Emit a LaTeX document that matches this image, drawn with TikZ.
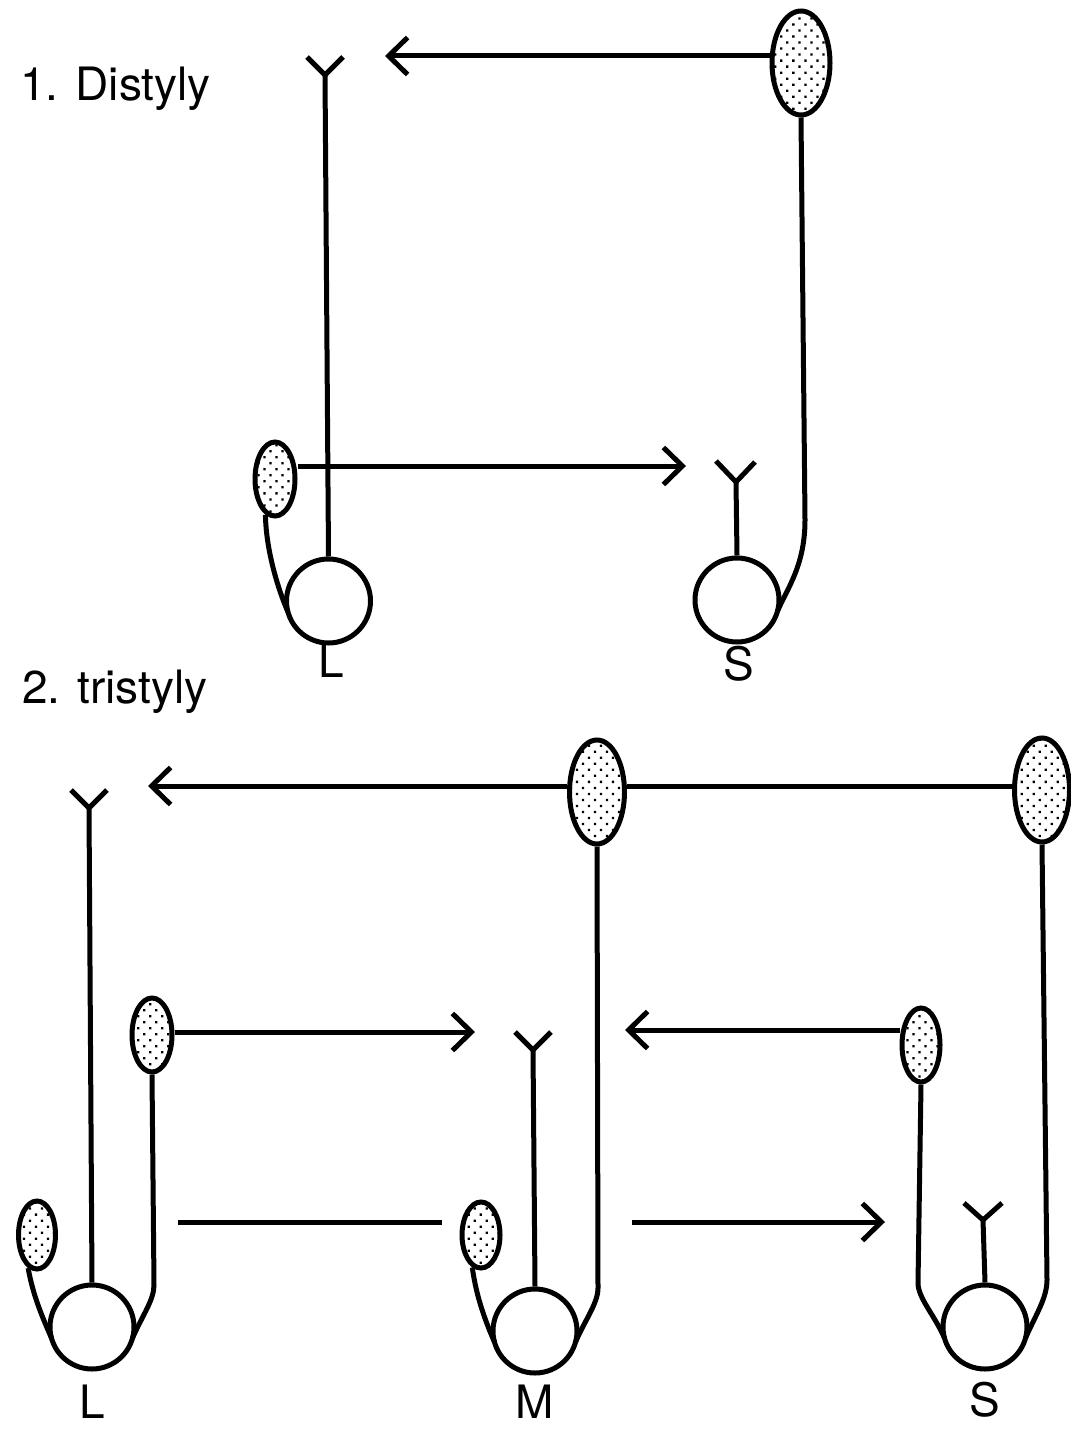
\documentclass[tikz,border=0pt]{standalone}
\usepackage{fontspec}
\setmainfont{TeX Gyre Heros}
\usetikzlibrary{shapes.geometric,patterns.meta,arrows.meta}
\tikzset{
  ln/.style={line width=5pt},
  anther/.style={ellipse, draw, line width=5pt, inner sep=0pt,
    pattern={Dots[distance=8.5pt, angle=45, radius=1.6pt]}},
  ovary/.style={circle, draw, line width=5pt, minimum size=84pt, inner sep=0pt},
  arr/.style={line width=5pt, -{Straight Barb[length=19pt, width=37pt, line width=5pt]}},
  lbl/.style={font=\fontsize{46}{50}\selectfont, inner sep=0pt},
}
\begin{document}
\begin{tikzpicture}[x=1pt, y=-1pt]
\useasboundingbox (0,0) rectangle (1070,1431);

% ---------------- Titles and labels ----------------
\node[lbl, anchor=base west] (t1) at (20,101) {1. Distyly};
\node[lbl, anchor=base west] (t2) at (22,703) {2. tristyly};
\node[lbl, anchor=base] (lD) at (331,677) {L};
\node[lbl, anchor=base] (sD) at (739,680) {S};
\node[lbl, anchor=base] (lT) at (92,1418) {L};
\node[lbl, anchor=base] (mT) at (535,1418) {M};
\node[lbl, anchor=base] (sT) at (985,1416) {S};

% ================= 1. Distyly =================
% L morph
\node[ovary] (DLo) at (328.5,601) {};
\coordinate (DLf) at (325,75);
\draw[ln] (DLo.north) -- (DLf);
\draw[ln] (307,57) -- (DLf) -- (343,57);
\node[anther, minimum width=40pt, minimum height=74pt] (DLa) at (275,479) {};
\draw[ln] (DLa.255) .. controls (266,550) and (277.9,588.9) .. (287.9,611.9);

% S morph
\node[ovary] (DSo) at (737,600) {};
\coordinate (DSf) at (736,482);
\draw[ln] (DSo.north) -- (DSf);
\draw[ln] (716,461) -- (DSf) -- (755,462);
\node[anther, minimum width=58pt, minimum height=104pt] (DSa) at (801,63) {};
\draw[ln] (DSa.south) -- (805,520) .. controls (805,565) and (787.6,587.9) .. (777.6,610.9);

% pollen flow arrows
\coordinate (DT1) at (385,56);
\coordinate (DT2) at (686,466);
\draw[arr] (DSa.west |- DT1) -- (DT1);
\draw[arr] (DLa.east |- DT2) -- (DT2);

% ================= 2. Tristyly =================
% L morph
\node[ovary] (TLo) at (92,1327) {};
\coordinate (TLf) at (89,808);
\draw[ln] (TLo.north) -- (TLf);
\draw[ln] (71,790) -- (TLf) -- (107,790);
\node[anther, minimum width=37pt, minimum height=68pt] (TLa1) at (37,1235) {};
\draw[ln] (TLa1.255) .. controls (33,1295) and (41.4,1314.9) .. (51.4,1337.9);
\node[anther, minimum width=40pt, minimum height=74pt] (TLa2) at (152,1035) {};
\draw[ln] (TLa2.south) -- (154,1285) .. controls (154,1300) and (142.6,1314.9) .. (132.6,1337.9);

% M morph
\node[ovary] (TMo) at (535,1331) {};
\coordinate (TMf) at (533,1050);
\draw[ln] (TMo.north) -- (TMf);
\draw[ln] (515,1032) -- (TMf) -- (551,1032);
\node[anther, minimum width=38pt, minimum height=66pt] (TMa1) at (481,1235) {};
\draw[ln] (TMa1.255) .. controls (476,1295) and (484.4,1318.9) .. (494.4,1341.9);
\node[anther, minimum width=55pt, minimum height=104pt] (TMa2) at (597,792) {};
\draw[ln] (TMa2.south) -- (598,1288) .. controls (598,1303) and (585.6,1318.9) .. (575.6,1341.9);

% S morph
\node[ovary] (TSo) at (985,1327) {};
\coordinate (TSf) at (983,1220);
\draw[ln] (TSo.north) -- (TSf);
\draw[ln] (964,1203) -- (TSf) -- (1002,1203);
\node[anther, minimum width=38pt, minimum height=74pt] (TSa1) at (921,1045) {};
\draw[ln] (TSa1.south) -- (918,1283) .. controls (918,1298) and (934.4,1314.9) .. (944.4,1337.9);
\node[anther, minimum width=55pt, minimum height=104pt] (TSa2) at (1042,790) {};
\draw[ln] (TSa2.south) -- (1047,1280) .. controls (1047,1298) and (1035.6,1314.9) .. (1025.6,1337.9);

% pollen flow arrows
\coordinate (TT1) at (148,786);
\draw[ln] (TSa2.west |- TT1) -- (TMa2.east |- TT1);
\draw[arr] (TMa2.west |- TT1) -- (TT1);
\coordinate (TT2) at (475,1032);
\draw[arr] (TLa2.east |- TT2) -- (TT2);
\coordinate (TT3) at (625,1030);
\draw[arr] (TSa1.west |- TT3) -- (TT3);
\coordinate (TB1) at (178,1222);
\coordinate (TB2) at (442,1222);
\coordinate (TB3) at (632,1222);
\coordinate (TB4) at (885,1222);
\draw[ln] (TB1) -- (TB2);
\draw[arr] (TB3) -- (TB4);
\end{tikzpicture}
\end{document}
